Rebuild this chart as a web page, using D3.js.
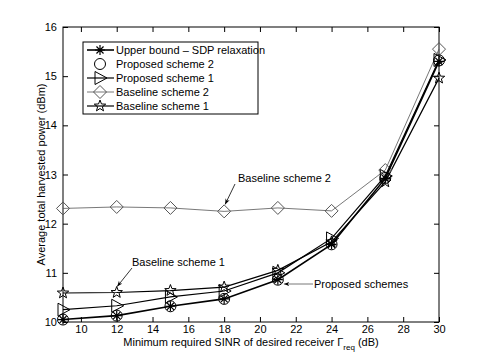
<!DOCTYPE html>
<html>
<head>
<meta charset="utf-8">
<title>Harvested power vs SINR</title>
<script src="https://d3js.org/d3.v7.min.js"></script>
<style>
  body { margin: 0; padding: 0; background: #fff; }
  svg { display: block; font-family: "Liberation Sans", Arial, sans-serif; }
  .tick text { font-size: 11px; fill: #000; }
  .lbl { font-size: 11px; fill: #000; }
</style>
</head>
<body>
<svg width="485" height="363"></svg>
<script>
var sinr = [9, 12, 15, 18, 21, 24, 27, 30];
var upperBound = [10.05, 10.13, 10.32, 10.47, 10.86, 11.58, 12.92, 15.30];
var proposed2 = [10.05, 10.13, 10.32, 10.47, 10.86, 11.58, 12.93, 15.32];
var proposed1 = [10.25, 10.33, 10.51, 10.63, 11.00, 11.70, 12.97, 15.33];
var baseline2 = [12.31, 12.34, 12.32, 12.25, 12.32, 12.26, 13.09, 15.55];
var baseline1 = [10.59, 10.60, 10.64, 10.71, 11.05, 11.63, 12.85, 14.96];
var xTicks = [10, 12, 14, 16, 18, 20, 22, 24, 26, 28, 30];
var yTicks = [10, 11, 12, 13, 14, 15, 16];

var svg = d3.select('svg');
var margin = { left: 63, right: 46, top: 27, bottom: 41 };
var width = +svg.attr('width');
var height = +svg.attr('height');

var x = d3.scaleLinear().domain([9, 30]).range([margin.left, width - margin.right]);
var y = d3.scaleLinear().domain([10, 16]).range([height - margin.bottom, margin.top]);

// markers
function marker(g, type, color) {
  var p = g.append('path').attr('fill', 'none').attr('stroke', color).attr('stroke-width', 1);
  if (type === 'asterisk') {
    var r = 5, d = r * 0.707;
    p.attr('d', 'M' + -r + ',0H' + r + 'M0,' + -r + 'V' + r +
      'M' + -d + ',' + -d + 'L' + d + ',' + d + 'M' + -d + ',' + d + 'L' + d + ',' + -d)
      .attr('stroke-width', 1.2);
  } else if (type === 'circle') {
    p.attr('d', d3.arc()({ innerRadius: 0, outerRadius: 5.5, startAngle: 0, endAngle: 2 * Math.PI }));
  } else if (type === 'triangle') {
    p.attr('d', 'M-5,-6.5L7,0L-5,6.5Z');
  } else if (type === 'diamond') {
    p.attr('d', 'M0,-6.5L6.5,0L0,6.5L-6.5,0Z');
  } else if (type === 'star') {
    var pts = [];
    for (var i = 0; i < 10; i++) {
      var rr = i % 2 === 0 ? 6 : 2.5;
      var a = -Math.PI / 2 + i * Math.PI / 5;
      pts.push([rr * Math.cos(a), rr * Math.sin(a)]);
    }
    p.attr('d', 'M' + pts.join('L') + 'Z');
  }
}

var series = [
  { name: 'Upper bound  \u2013 SDP relaxation', values: upperBound, marker: 'asterisk', color: '#000', width: 1.6, line: true },
  { name: 'Proposed scheme 2', values: proposed2, marker: 'circle', color: '#000', width: 1, line: false },
  { name: 'Proposed scheme 1', values: proposed1, marker: 'triangle', color: '#000', width: 1.2, line: true },
  { name: 'Baseline scheme 2', values: baseline2, marker: 'diamond', color: '#555', width: 0.8, line: true },
  { name: 'Baseline scheme 1', values: baseline1, marker: 'star', color: '#000', width: 1.2, line: true }
];

// axes
var plotH = height - margin.top - margin.bottom;
var plotW = width - margin.left - margin.right;
var fmt = d3.format('d');
svg.append('g')
  .attr('transform', 'translate(0,' + (height - margin.bottom) + ')')
  .call(d3.axisBottom(x).tickValues(xTicks).tickFormat(fmt).tickSizeInner(-5).tickSizeOuter(0).tickPadding(3))
  .call(function(g) { g.select('.domain').remove(); });
svg.append('g')
  .attr('transform', 'translate(0,' + margin.top + ')')
  .call(d3.axisTop(x).tickValues(xTicks).tickSizeInner(-5).tickSizeOuter(0).tickFormat(''))
  .call(function(g) { g.select('.domain').remove(); });
svg.append('g')
  .attr('transform', 'translate(' + margin.left + ',0)')
  .call(d3.axisLeft(y).tickValues(yTicks).tickFormat(fmt).tickSizeInner(-5).tickSizeOuter(0).tickPadding(6))
  .call(function(g) { g.select('.domain').remove(); });
svg.append('g')
  .attr('transform', 'translate(' + (width - margin.right) + ',0)')
  .call(d3.axisRight(y).tickValues(yTicks).tickSizeInner(-5).tickSizeOuter(0).tickFormat(''))
  .call(function(g) { g.select('.domain').remove(); });
svg.selectAll('.tick line').attr('stroke', '#000');

svg.append('rect')
  .attr('x', margin.left).attr('y', margin.top)
  .attr('width', plotW).attr('height', plotH)
  .attr('fill', 'none').attr('stroke', '#000').attr('stroke-width', 1);

// lines and markers
var line = d3.line().x(function(d, i) { return x(sinr[i]); }).y(function(d) { return y(d); });
series.slice().reverse().forEach(function(s) {
  if (s.line) {
    svg.append('path').datum(s.values)
      .attr('d', line).attr('fill', 'none')
      .attr('stroke', s.color).attr('stroke-width', s.width);
  }
  s.values.forEach(function(v, i) {
    var g = svg.append('g').attr('transform', 'translate(' + x(sinr[i]) + ',' + y(v) + ')');
    marker(g, s.marker, s.color);
  });
});

// legend
var lg = svg.append('g').attr('transform', 'translate(83,42)');
lg.append('rect').attr('width', 175).attr('height', 72)
  .attr('fill', '#fff').attr('stroke', '#000').attr('stroke-width', 1);
series.forEach(function(s, i) {
  var yy = 8 + i * 14;
  if (s.line) {
    lg.append('line').attr('x1', 4).attr('x2', 31).attr('y1', yy).attr('y2', yy)
      .attr('stroke', s.color).attr('stroke-width', s.width);
  }
  var g = lg.append('g').attr('transform', 'translate(17,' + yy + ')');
  marker(g, s.marker, s.color);
  lg.append('text').attr('class', 'lbl').attr('x', 33).attr('y', yy + 4).text(s.name);
});

// annotations
svg.append('defs').append('marker')
  .attr('id', 'arr').attr('viewBox', '0 0 10 10').attr('refX', 10).attr('refY', 5)
  .attr('markerWidth', 7).attr('markerHeight', 7).attr('orient', 'auto-start-reverse')
  .append('path').attr('d', 'M0,1L10,5L0,9L3,5Z').attr('fill', '#000');

function annotate(text, tx, ty, x1, y1, x2, y2) {
  svg.append('text').attr('class', 'lbl').attr('x', tx).attr('y', ty).text(text);
  svg.append('line').attr('x1', x1).attr('y1', y1).attr('x2', x2).attr('y2', y2)
    .attr('stroke', '#000').attr('stroke-width', 0.8).attr('marker-end', 'url(#arr)');
}
annotate('Baseline scheme 2', 238, 182, 235, 184, x(18) + 1, y(12.25) - 7);
annotate('Baseline scheme 1', 132, 266, 132, 268, x(12) + 0.5, y(10.60) - 6);
svg.append('text').attr('class', 'lbl').attr('x', 314).attr('y', 288).text('Proposed schemes');
svg.append('line').attr('x1', 313).attr('y1', 284).attr('x2', x(21) + 6).attr('y2', 284)
  .attr('stroke', '#555').attr('stroke-width', 0.8).attr('marker-end', 'url(#arr)');

// axis labels
var xl = svg.append('text').attr('class', 'lbl')
  .attr('x', x(19.5)).attr('y', 346).attr('text-anchor', 'middle');
xl.append('tspan').text('Minimum required SINR of desired receiver \u0393');
xl.append('tspan').attr('font-size', '8px').attr('dy', 4).text('req');
xl.append('tspan').attr('dy', -4).text(' (dB)');

svg.append('text').attr('class', 'lbl')
  .attr('transform', 'translate(45,' + (margin.top + plotH / 2) + ') rotate(-90)')
  .attr('text-anchor', 'middle')
  .text('Average total harvested power (dBm)');
</script>
</body>
</html>
